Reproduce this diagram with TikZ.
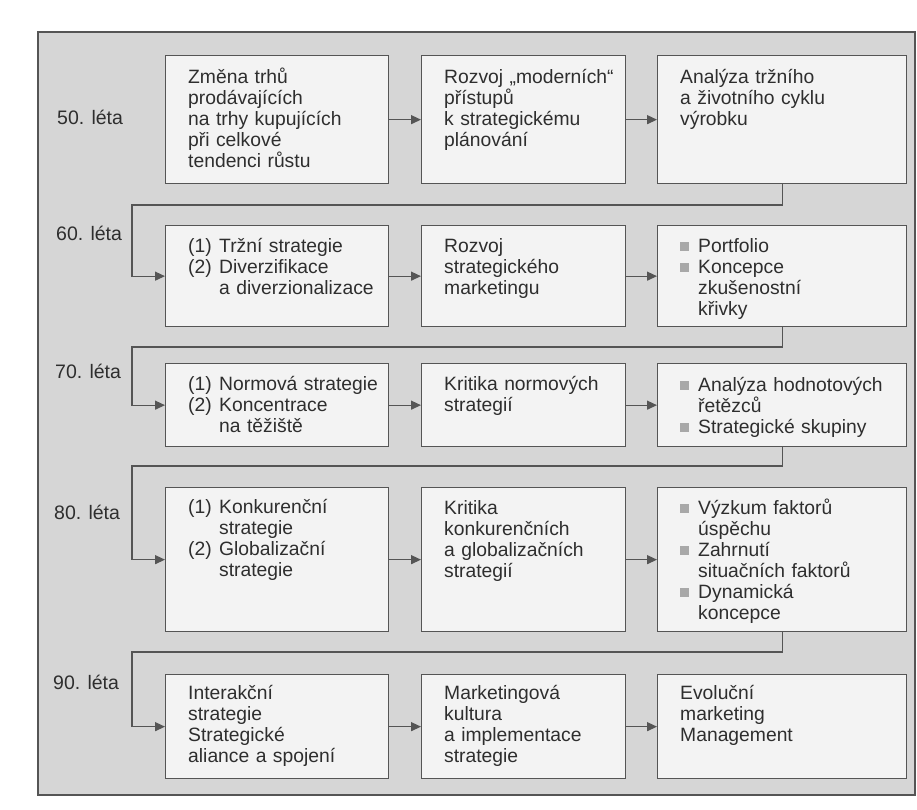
\documentclass[tikz,border=0pt]{standalone}
\usepackage{fontspec}
\setmainfont{Liberation Sans}
\usetikzlibrary{arrows.meta,calc}
\definecolor{panelgray}{HTML}{D6D6D6}
\definecolor{boxfill}{HTML}{F3F3F3}
\definecolor{linegray}{HTML}{555555}
\definecolor{textgray}{HTML}{2E2E2E}
\definecolor{bulgray}{HTML}{A8A8A8}
\newcommand\mybul{\makebox[18pt][l]{\textcolor{bulgray}{\rule[1.5pt]{9pt}{9pt}}}}
\newcommand\myind{\hspace*{18pt}}
\newcommand\numit[1]{\makebox[31pt][l]{(#1)}}
\newcommand\numind{\hspace*{31pt}}
\begin{document}
\begin{tikzpicture}[x=1pt,y=-1pt,
  box/.style={draw=linegray, fill=boxfill, line width=1.3pt, inner sep=0pt, anchor=north west},
  txt/.style={anchor=base west, inner sep=0pt, text width=#1, align=left,
              font=\fontsize{19.3}{21}\selectfont, text=textgray},
  lbl/.style={anchor=west, inner sep=0pt, font=\fontsize{19.5}{21}\selectfont, text=textgray},
  conn/.style={draw=linegray, line width=1.3pt},
  arr/.style={conn, -{Triangle[length=10pt,width=9pt]}}]
% page and panel
\fill[white] (0,0) rectangle (917,809);
\draw[draw=linegray, fill=panelgray, line width=1.3pt] (38,32) rectangle (915,795);
\useasboundingbox (0,0) rectangle (917,809);
% row 1
\node[box, minimum width=223pt, minimum height=128pt] (b1) at (165,55) {};
\node[box, minimum width=204pt, minimum height=128pt] (b2) at (421,55) {};
\node[box, minimum width=249pt, minimum height=128pt] (b3) at (657,55) {};
% row 2
\node[box, minimum width=223pt, minimum height=101pt] (b4) at (165,225) {};
\node[box, minimum width=204pt, minimum height=101pt] (b5) at (421,225) {};
\node[box, minimum width=249pt, minimum height=101pt] (b6) at (657,225) {};
% row 3
\node[box, minimum width=223pt, minimum height=83pt] (b7) at (165,363) {};
\node[box, minimum width=204pt, minimum height=83pt] (b8) at (421,363) {};
\node[box, minimum width=249pt, minimum height=83pt] (b9) at (657,363) {};
% row 4
\node[box, minimum width=223pt, minimum height=144pt] (b10) at (165,487) {};
\node[box, minimum width=204pt, minimum height=144pt] (b11) at (421,487) {};
\node[box, minimum width=249pt, minimum height=144pt] (b12) at (657,487) {};
% row 5
\node[box, minimum width=223pt, minimum height=104pt] (b13) at (165,674) {};
\node[box, minimum width=204pt, minimum height=104pt] (b14) at (421,674) {};
\node[box, minimum width=249pt, minimum height=104pt] (b15) at (657,674) {};
% texts
\node[txt=198pt] (t1) at ($(b1.north west)+(23,28)$) {Změna trhů\\prodávajících\\na trhy kupujících\\při celkové\\tendenci růstu};
\node[txt=180pt] (t2) at ($(b2.north west)+(23,28)$) {Rozvoj „moderních“\\přístupů\\k strategickému\\plánování};
\node[txt=224pt] (t3) at ($(b3.north west)+(23,28)$) {Analýza tržního\\a životního cyklu\\výrobku};
\node[txt=198pt] (t4) at ($(b4.north west)+(23,27)$) {\numit{1}Tržní strategie\\\numit{2}Diverzifikace\\\numind a diverzionalizace};
\node[txt=180pt] (t5) at ($(b5.north west)+(23,27)$) {Rozvoj\\strategického\\marketingu};
\node[txt=224pt] (t6) at ($(b6.north west)+(23,27)$) {\mybul Portfolio\\\mybul Koncepce\\\myind zkušenostní\\\myind křivky};
\node[txt=198pt] (t7) at ($(b7.north west)+(23,27)$) {\numit{1}Normová strategie\\\numit{2}Koncentrace\\\numind na těžiště};
\node[txt=180pt] (t8) at ($(b8.north west)+(23,27)$) {Kritika normových\\strategií};
\node[txt=224pt] (t9) at ($(b9.north west)+(23,28)$) {\mybul Analýza hodnotových\\\myind řetězců\\\mybul Strategické skupiny};
\node[txt=198pt] (t10) at ($(b10.north west)+(23,26)$) {\numit{1}Konkurenční\\\numind strategie\\\numit{2}Globalizační\\\numind strategie};
\node[txt=180pt] (t11) at ($(b11.north west)+(23,27)$) {Kritika\\konkurenčních\\a globalizačních\\strategií};
\node[txt=224pt] (t12) at ($(b12.north west)+(23,27)$) {\mybul Výzkum faktorů\\\myind úspěchu\\\mybul Zahrnutí\\\myind situačních faktorů\\\mybul Dynamická\\\myind koncepce};
\node[txt=198pt] (t13) at ($(b13.north west)+(23,25)$) {Interakční\\strategie\\Strategické\\aliance a spojení};
\node[txt=180pt] (t14) at ($(b14.north west)+(23,25)$) {Marketingová\\kultura\\a implementace\\strategie};
\node[txt=224pt] (t15) at ($(b15.north west)+(23,25)$) {Evoluční\\marketing\\Management};
% row labels
\node[lbl] (l50) at (57,117) {50. léta};
\node[lbl] (l60) at (56,233) {60. léta};
\node[lbl] (l70) at (55,371) {70. léta};
\node[lbl] (l80) at (54,512) {80. léta};
\node[lbl] (l90) at (53,682) {90. léta};
% horizontal arrows
\draw[arr] (b1.east) -- (b2.west);
\draw[arr] (b2.east) -- (b3.west);
\draw[arr] (b4.east) -- (b5.west);
\draw[arr] (b5.east) -- (b6.west);
\draw[arr] (b7.east) -- (b8.west);
\draw[arr] (b8.east) -- (b9.west);
\draw[arr] (b10.east) -- (b11.west);
\draw[arr] (b11.east) -- (b12.west);
\draw[arr] (b13.east) -- (b14.west);
\draw[arr] (b14.east) -- (b15.west);
% return connectors
\coordinate (k1) at (132,205);
\coordinate (k2) at (132,347);
\coordinate (k3) at (132,466);
\coordinate (k4) at (132,652);
\draw[arr] (b3.south) |- (k1) |- (b4.west);
\draw[arr] (b6.south) |- (k2) |- (b7.west);
\draw[arr] (b9.south) |- (k3) |- (b10.west);
\draw[arr] (b12.south) |- (k4) |- (b13.west);
\end{tikzpicture}
\end{document}
